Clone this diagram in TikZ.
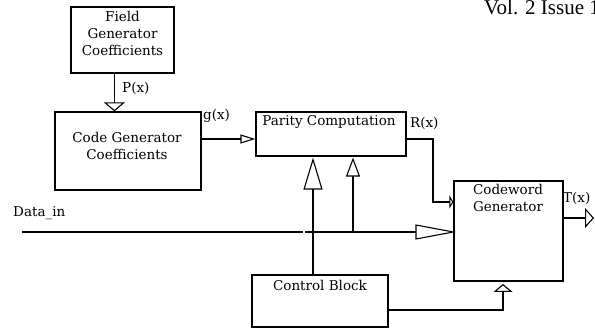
\documentclass[tikz,border=0pt]{standalone}
\usepackage{fontspec}
\setmainfont{DejaVu Serif}
\newfontfamily\hdrfont{Liberation Serif}
\usetikzlibrary{arrows.meta}
\begin{document}
\begin{tikzpicture}[x=1pt,y=-1pt,
  box/.style={draw,line width=1.2pt,inner sep=0pt},
  txt/.style={inner sep=0pt,font=\fontsize{13.5}{17}\selectfont,align=center},
  lbl/.style={inner sep=0pt,anchor=west,font=\fontsize{13.5}{17}\selectfont},
  conn/.style={line width=1.1pt}]
\useasboundingbox (0,0) rectangle (595,331);

% header
\node[anchor=base west,font=\hdrfont\fontsize{21}{23}\selectfont,inner sep=0pt] (hdr) at (484,15) {Vol. 2 Issue 1};

% boxes
\node[box,minimum width=103pt,minimum height=66pt] (fg) at (122.5,40) {};
\node[txt] (fgt) at (122.5,33) {Field\\Generator\\Coefficients};

\node[box,minimum width=146pt,minimum height=78pt] (cg) at (128,151) {};
\node[txt] (cgt) at (127,146) {Code Generator\\Coefficients};

\node[box,minimum width=150pt,minimum height=44pt] (pc) at (331,134) {};
\node[txt] (pct) at (329,122) {Parity Computation};

\node[box,minimum width=109pt,minimum height=100pt] (cw) at (508.5,231) {};
\node[txt] (cwt) at (508,198) {Codeword\\Generator};

\node[box,minimum width=136pt,minimum height=52pt] (cb) at (320,301) {};
\node[txt] (cbt) at (320,285) {Control Block};

% labels
\node[lbl] (px) at (122,88) {P(x)};
\node[lbl] (gx) at (203,116) {g(x)};
\node[lbl] (rx) at (410,123) {R(x)};
\node[lbl] (tx) at (563,198) {T(x)};
\node[lbl] (dl) at (13,213) {Data\_in};

% coordinates
\coordinate (din) at (22,232);
\coordinate (dgap) at (303,232);
\coordinate (dgap2) at (305,232);
\coordinate (tap) at (353,232);
\coordinate (rbend) at (433,139);
\coordinate (cwin) at (503,284);
\coordinate (tout) at (594,218);

% connectors
\draw[conn,-{Triangle[open,length=9pt,width=21pt]}] ([xshift=44pt]fg.south west) -- ([xshift=60pt]cg.north west);
\draw[conn,-{Triangle[open,length=15pt,width=9pt]}] ([yshift=12pt]cg.east) -- ([yshift=-5pt]pc.west);
\draw[conn,-{Triangle[open,length=4pt,width=13pt,line width=1.6pt]}] ([yshift=-5pt]pc.east) -- (rbend) |- ([yshift=29pt]cw.west);
\draw[conn] (din) -- (dgap);
\draw[conn,-{Triangle[open,length=41pt,width=15pt]}] (dgap2) -- ([xshift=3pt,yshift=-1pt]cw.west);
\draw[conn,-{Triangle[open,length=32pt,width=19pt]}] ([xshift=-7pt]cb.north) -- ([xshift=-18pt,yshift=-1pt]pc.south);
\draw[conn,-{Triangle[open,length=19pt,width=14pt]}] (tap) -- ([xshift=22pt,yshift=-1pt]pc.south);
\draw[conn,-{Triangle[open,length=8pt,width=19pt]}] ([yshift=-9pt]cb.east) -| (cwin);
\draw[conn,-{Triangle[open,length=9pt,width=20pt]}] ([yshift=13pt]cw.east) -- (tout);
\end{tikzpicture}
\end{document}
